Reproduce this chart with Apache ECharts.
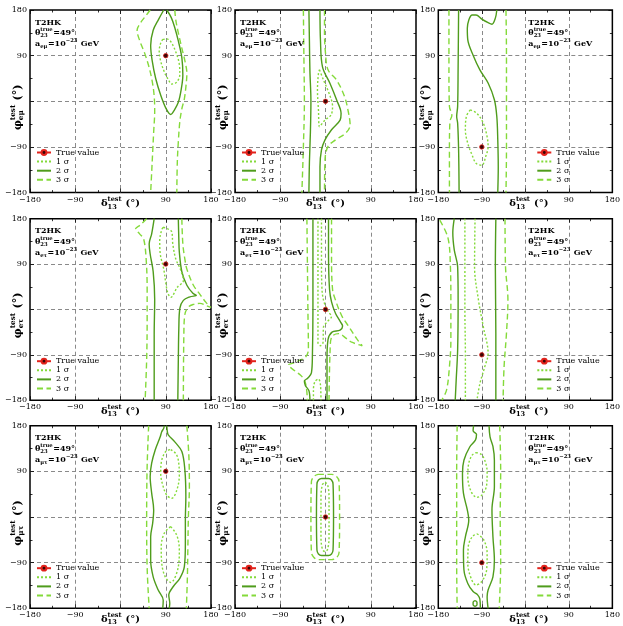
<!DOCTYPE html>
<html><head><meta charset="utf-8">
<script src="https://cdn.jsdelivr.net/npm/echarts@6.0.0/dist/echarts.min.js"></script>
<style>html,body{margin:0;padding:0;background:#fff}#c{width:623px;height:626px}</style>
</head><body><div id="c"></div>
<script>
// ---------- data ----------
const deltaTicks = [-180, -90, 0, 90, 180];
const phiTicks = [-180, -90, 0, 90, 180];
const tickLabels = ['\u2212180', '\u221290', '', '90', '180'];
const legendNames = ['True value', '1 \u03c3', '2 \u03c3', '3 \u03c3'];
const rowChannels = ['e\u03bc', 'e\u03c4', '\u03bc\u03c4'];
const experiment = 'T2HK';
const theta23True = '49\u00b0';
const aValueExp = '\u221223';
const trueDelta = [90, 0, -90, 90, 0, -90, 90, 0, -90];
const truePhi = [90, 0, -90, 90, 0, -90, 90, 0, -90];

// panel 1 (e-mu, true 90,90)
const p1_1s = [[84,122],[92,123],[99,119],[105,109],[112,92],[117,73],[118,53],[112,38],[102,34],[95,43],[88,56],[80,79],[77,99],[80,115],[84,122]];
const p1_2s = [[86,180],[76,162],[65,140],[60,110],[63,80],[70,45],[80,12],[91,-15],[100,-26],[106,-19],[115,-2],[121,25],[124,52],[122,86],[115,119],[108,145],[101,165],[92,180]];
const p1_3sL = [[59,180],[50,168],[40,155],[33,140],[38,120],[48,95],[56,70],[63,40],[67,10],[68,-20],[66,-60],[64,-100],[62,-140],[60,-180]];
const p1_3sR = [[108,180],[110,160],[115,135],[122,105],[128,80],[132,55],[130,28],[127,5],[122,-15],[118,-40],[115,-80],[113,-120],[112,-180]];
// panel 2 (e-mu, true 0,0)
const p2_1s = [[-12,62],[-4,42],[7,16],[14,-10],[11,-27],[-1,-37],[-12,-50],[-14,-17],[-16,22],[-14,55],[-12,62]];
const p2_2sL = [[-33,180],[-32,120],[-31,60],[-29,0],[-30,-60],[-32,-120],[-33,-180]];
const p2_2sR = [[-11,180],[-10,120],[-6,68],[9,35],[22,3],[31,-24],[29,-37],[12,-56],[-1,-76],[-8,-96],[-11,-129],[-11,-180]];
const p2_3sL = [[-44,180],[-43,90],[-42,0],[-44,-90],[-47,-180]];
const p2_3sR = [[-2,180],[-2,134],[0,95],[5,62],[22,42],[38,9],[46,-24],[49,-47],[40,-63],[20,-76],[5,-89],[-1,-116],[-2,-180]];
// panel 3 (e-mu, true -90,-90)
const p3_1s = [[-114,-17],[-100,-24],[-87,-43],[-79,-70],[-77,-89],[-82,-109],[-90,-126],[-102,-122],[-110,-106],[-119,-83],[-124,-57],[-122,-30],[-114,-17]];
const p3_2sL = [[-138,180],[-139,68],[-140,-10],[-142,-30],[-140,-43],[-138,-96],[-137,-180]];
const p3_2sR = [[-59,180],[-62,164],[-69,152],[-77,155],[-90,162],[-102,170],[-110,170],[-117,160],[-120,144],[-119,121],[-108,91],[-94,62],[-77,36],[-64,3],[-59,-30],[-57,-76],[-56,-129],[-57,-180]];
const p3_3sL = [[-158,180],[-158,60],[-157,-10],[-152,-28],[-156,-40],[-157,-100],[-157,-180]];
const p3_3sR = [[-40,180],[-39,90],[-39,0],[-39,-90],[-40,-180]];
// panel 4 (e-tau, true 90,90)
const p4_1s = [[85,163],[96,159],[102,154],[104,130],[110,100],[119,80],[125,57],[113,44],[100,24],[94,33],[90,53],[86,80],[79,111],[78,137],[82,158],[85,163]];
const p4_2sL = [[67,180],[62,150],[57,130],[59,110],[65,75],[68,20],[67,-50],[67,-115],[67,-180]];
const p4_2sR = [[115,180],[116,140],[117,114],[122,75],[132,48],[144,32],[151,28],[138,25],[125,18],[118,2],[116,-38],[115,-100],[114,-180]];
const p4_3sL = [[52,180],[40,168],[30,160],[38,150],[46,140],[51,100],[53,40],[53,-20],[52,-100],[49,-180]];
const p4_3sR = [[122,180],[124,130],[128,100],[132,80],[145,48],[158,30],[170,14],[180,4],[172,7],[158,12],[145,10],[135,5],[128,-10],[126,-50],[125,-180]];
// panel 5 (e-tau, true 0,0)
const p5_1sA = [[-8,180],[-8,100],[-7,40],[-3,15],[6,-5],[12,-14],[4,-24],[-4,-35],[-5,-66],[-10,-72],[-15,-66],[-15,0],[-15,90],[-15,180]];
const p5_1sB = [[-24,-180],[-24,-160],[-21,-143],[-14,-138],[-10,-150],[-9,-180]];
const p5_2sL = [[-25,180],[-25,90],[-25,0],[-26,-90],[-28,-126],[-35,-136],[-42,-142],[-40,-151],[-33,-161],[-31,-180]];
const p5_2sR = [[6,180],[6,110],[8,40],[12,15],[20,-8],[30,-25],[34,-33],[29,-41],[13,-45],[5,-60],[3,-98],[3,-180]];
const p5_3sL = [[-37,180],[-36,90],[-35,0],[-34,-80],[-40,-95],[-52,-101],[-62,-106],[-74,-110],[-62,-121],[-50,-130],[-42,-140],[-38,-155],[-36,-180]];
const p5_3sR = [[12,180],[12,100],[14,40],[19,21],[32,-12],[45,-32],[62,-58],[73,-72],[52,-65],[42,-58],[26,-48],[12,-55],[9,-85],[7,-180]];
// panel 6 (e-tau, true -90,-90)
const p6_1sL = [[-125,180],[-125,90],[-125,0],[-124,-90],[-124,-180]];
const p6_1sR = [[-104,180],[-105,85],[-97,19],[-87,-34],[-77,-87],[-84,-114],[-94,-147],[-100,-180]];
const p6_2sL = [[-147,180],[-150,152],[-147,118],[-140,85],[-139,19],[-140,-80],[-143,-140],[-145,-180]];
const p6_2sR = [[-61,180],[-62,85],[-61,-47],[-61,-180]];
const p6_3sL = [[-177,177],[-160,142],[-155,85],[-154,19],[-154,-61],[-157,-114],[-163,-160],[-173,-180]];
const p6_3sR = [[-42,180],[-41,85],[-36,19],[-39,-47],[-44,-114],[-46,-180]];
// panel 7 (mu-tau, true 90,90)
const p7_1sA = [[100,133],[110,125],[115,112],[117,83],[112,53],[102,37],[92,43],[84,63],[80,86],[82,112],[90,129],[100,133]];
const p7_1sB = [[100,-19],[112,-36],[117,-65],[115,-98],[100,-129],[89,-118],[82,-91],[81,-59],[87,-32],[100,-19]];
const p7_2sL = [[87,180],[86,175],[82,168],[79,158],[69,132],[62,106],[59,80],[62,47],[66,14],[64,-12],[60,-39],[60,-85],[65,-118],[75,-144],[85,-164],[84,-180]];
const p7_2sR = [[92,180],[93,170],[95,162],[108,148],[122,129],[128,93],[130,40],[129,-6],[129,-52],[127,-98],[118,-121],[105,-137],[96,-154],[98,-170],[97,-180]];
const p7_3sL = [[56,180],[53,100],[52,0],[53,-100],[57,-180]];
const p7_3sR = [[132,180],[136,120],[137,60],[135,0],[134,-60],[133,-120],[131,-180]];
// panel 8 (mu-tau, true 0,0)
const p8_1s = [[-1,68],[4,64],[7,40],[7,0],[7,-40],[4,-64],[-1,-68],[-6,-64],[-9,-40],[-9,0],[-9,40],[-6,64],[-1,68]];
const p8_2s = [[-8,76],[6,76],[12,73],[15,65],[16,0],[15,-65],[12,-73],[6,-76],[-8,-76],[-14,-73],[-17,-65],[-18,0],[-17,65],[-14,73],[-8,76]];
const p8_3s = [[-15,84],[12,84],[22,80],[27,70],[28,0],[27,-70],[22,-80],[12,-84],[-15,-84],[-23,-80],[-28,-70],[-29,0],[-28,70],[-23,80],[-15,84]];
// panel 9 (mu-tau, true -90,-90)
const p9_1sA = [[-102,127],[-92,124],[-84,112],[-79,89],[-80,63],[-90,43],[-100,39],[-112,50],[-119,80],[-117,106],[-110,122],[-102,127]];
const p9_1sB = [[-100,-33],[-86,-45],[-79,-72],[-80,-104],[-90,-127],[-102,-134],[-112,-121],[-119,-91],[-118,-58],[-110,-39],[-100,-33]];
const p9_2sL = [[-107,180],[-108,170],[-101,163],[-103,152],[-115,138],[-127,112],[-130,86],[-128,47],[-120,14],[-117,-6],[-124,-39],[-128,-65],[-127,-104],[-119,-131],[-108,-147],[-99,-153],[-94,-162],[-93,-180]];
const p9_2sR = [[-75,180],[-73,158],[-67,139],[-64,112],[-64,60],[-69,14],[-67,-39],[-64,-85],[-67,-118],[-77,-144],[-79,-157],[-77,-180]];
const p9_2sC = [[-104,-165],[-100,-168],[-100,-173],[-104,-176],[-108,-173],[-108,-168],[-104,-165]];
const p9_3sL = [[-141,180],[-142,90],[-142,0],[-142,-90],[-141,-180]];
const p9_3sR = [[-53,180],[-51,90],[-52,0],[-51,-90],[-54,-180]];

// ---------- grouping ----------
const sigma1 = [[p1_1s],[p2_1s],[p3_1s],[p4_1s],[p5_1sA,p5_1sB],[p6_1sL,p6_1sR],[p7_1sA,p7_1sB],[p8_1s],[p9_1sA,p9_1sB]];
const sigma2 = [[p1_2s],[p2_2sL,p2_2sR],[p3_2sL,p3_2sR],[p4_2sL,p4_2sR],[p5_2sL,p5_2sR],[p6_2sL,p6_2sR],[p7_2sL,p7_2sR],[p8_2s],[p9_2sL,p9_2sR,p9_2sC]];
const sigma3 = [[p1_3sL,p1_3sR],[p2_3sL,p2_3sR],[p3_3sL,p3_3sR],[p4_3sL,p4_3sR],[p5_3sL,p5_3sR],[p6_3sL,p6_3sR],[p7_3sL,p7_3sR],[p8_3s],[p9_3sL,p9_3sR]];

// ---------- layout & style ----------
const colLeft = [30, 235, 438.3];
const colW = 181;
const rowTop = [10, 218.7, 425.7];
const rowH = [182.6, 181.5, 182.6];
const FF = '"DejaVu Serif", serif';
const C_LIGHT = '#84da3a';
const C_DARK = '#4f9c1c';

const ctx = document.createElement('canvas').getContext('2d');
function tw(t, s, b) { ctx.font = (b ? 'bold ' : '') + s + 'px ' + FF; return ctx.measureText(t).width; }
function run(parts, size, bold) {
  let x = 0; const out = [];
  parts.forEach(p => {
    if (typeof p === 'string') { out.push({t: p, dx: x, dy: 0, s: size}); x += tw(p, size, bold); }
    else {
      const s = size * 0.66; let w = 0;
      if (p.sub != null) { out.push({t: p.sub, dx: x, dy: size * 0.32, s}); w = Math.max(w, tw(p.sub, s, bold)); }
      if (p.sup != null) { out.push({t: p.sup, dx: x, dy: -size * 0.4, s}); w = Math.max(w, tw(p.sup, s, bold)); }
      x += w + 0.5;
    }
  });
  return {out, width: x};
}
function textGroup(parts, size, bold, x, y, anchor, rot) {
  const r = run(parts, size, bold);
  const off = anchor === 'center' ? -r.width / 2 : 0;
  return {type: 'group', x, y, rotation: rot || 0, silent: true,
    children: r.out.map(o => ({type: 'text', x: o.dx + off, y: o.dy, z: 20,
      style: {text: o.t, fontSize: o.s, fontFamily: FF, fontWeight: bold ? 'bold' : 'normal', fill: '#000', align: 'left', verticalAlign: 'middle'}}))};
}

const grids = [], xAxes = [], yAxes = [], series = [], legends = [], graphics = [];
const labelFmt = ticks => v => { const k = ticks.indexOf(Math.round(v)); return k < 0 ? '' : tickLabels[k]; };
const tickCommon = {axisTick: {show: true, inside: true, length: 4, lineStyle: {color: '#000', width: 0.8}},
  minorTick: {show: true, splitNumber: 2, length: 2.5, lineStyle: {color: '#000', width: 0.8}}};
const noLine = {show: false, onZero: false};

for (let i = 0; i < 9; i++) {
  const r = Math.floor(i / 3), c = i % 3;
  const L = colLeft[c], T = rowTop[r], W = colW, H = rowH[r];
  grids.push({left: L, top: T, width: W, height: H, show: true, borderColor: '#000', borderWidth: 1.5, backgroundColor: 'rgba(0,0,0,0)', containLabel: false});
  const split = {show: true, showMinLine: false, showMaxLine: false, lineStyle: {color: '#8a8a8a', width: 1, type: [4, 3]}};
  xAxes.push(Object.assign({gridIndex: i, type: 'value', min: -180, max: 180, interval: 90, position: 'bottom',
    axisLine: noLine, splitLine: split,
    axisLabel: {show: true, formatter: labelFmt(deltaTicks), fontFamily: FF, fontSize: 8, color: '#000', margin: 3, showMinLabel: true, showMaxLabel: true, hideOverlap: false}}, tickCommon));
  xAxes.push(Object.assign({gridIndex: i, type: 'value', min: -180, max: 180, interval: 90, position: 'top',
    axisLine: noLine, splitLine: {show: false}, axisLabel: {show: false}}, tickCommon));
  yAxes.push(Object.assign({gridIndex: i, type: 'value', min: -180, max: 180, interval: 90, position: 'left',
    axisLine: noLine, splitLine: split,
    axisLabel: {show: true, formatter: labelFmt(phiTicks), fontFamily: FF, fontSize: 8, color: '#000', margin: 3, showMinLabel: true, showMaxLabel: true}}, tickCommon));
  yAxes.push(Object.assign({gridIndex: i, type: 'value', min: -180, max: 180, interval: 90, position: 'right',
    axisLine: noLine, splitLine: {show: false}, axisLabel: {show: false}}, tickCommon));

  const xi = 2 * i, yi = 2 * i;
  const addC = (arr, name, color, type) => series.push({type: 'line', name, xAxisIndex: xi, yAxisIndex: yi, data: arr,
    symbol: 'none', showSymbol: false, smooth: 0.35, silent: true, z: 3,
    itemStyle: {color: 'rgba(0,0,0,0)'}, lineStyle: {color, width: 1.4, type}});
  sigma3[i].forEach(a => addC(a, legendNames[3], C_LIGHT, [6, 3.5]));
  sigma2[i].forEach(a => addC(a, legendNames[2], C_DARK, 'solid'));
  sigma1[i].forEach(a => addC(a, legendNames[1], C_LIGHT, [2, 2]));
  series.push({type: 'line', name: legendNames[0], xAxisIndex: xi, yAxisIndex: yi, data: [[trueDelta[i], truePhi[i]]],
    symbol: 'circle', symbolSize: 4.5, showSymbol: true, silent: true, z: 6,
    itemStyle: {color: '#3a0505', borderColor: '#e3231c', borderWidth: 0.8}, lineStyle: {color: '#e3231c', width: 1.5}});

  const legLeft = c === 2 ? L + 98 : L + 6;
  legends.push({data: legendNames, orient: 'vertical', left: legLeft, top: T + 138.5, padding: 0,
    itemWidth: 14, itemHeight: 6, itemGap: 1.1, selectedMode: false,
    textStyle: {fontFamily: FF, fontSize: 8, color: '#000', lineHeight: 7}});

  // annotation
  const ax = c === 2 ? L + 90 : L + 5;
  graphics.push(textGroup([experiment], 8, true, ax, T + 12.5, 'left'));
  graphics.push(textGroup(['\u03b8', {sub: '23', sup: 'true'}, '=' + theta23True], 8, true, ax, T + 23, 'left'));
  graphics.push(textGroup(['a', {sub: rowChannels[r]}, '=10', {sup: aValueExp}, ' GeV'], 8, true, ax, T + 34, 'left'));
  // axis names
  graphics.push(textGroup(['\u03b4', {sub: '13', sup: 'test'}, ' (\u00b0)'], 10, true, L + W / 2, T + H + 11, 'center'));
  graphics.push(textGroup(['\u03c6', {sub: rowChannels[r], sup: 'test'}, ' (\u00b0)'], 11, true, L - 12, T + H / 2 + 6, 'center', Math.PI / 2));
}

const chart = echarts.init(document.getElementById('c'), null, {renderer: 'canvas'});
chart.setOption({animation: false, backgroundColor: '#fff', grid: grids, xAxis: xAxes, yAxis: yAxes,
  series, legend: legends, graphic: graphics, tooltip: {show: false}});
</script></body></html>
